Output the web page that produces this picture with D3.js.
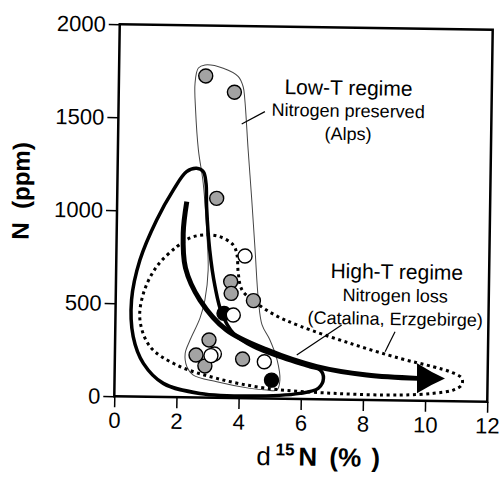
<!DOCTYPE html>
<html>
<head>
<meta charset="utf-8">
<script src="https://cdn.jsdelivr.net/npm/d3@7"></script>
<style>
  body { margin: 0; background: #fff; }
  svg { display: block; font-family: "Liberation Sans", Arial, sans-serif; }
</style>
</head>
<body>
<div id="chart"></div>
<script>
// axis ticks
var xTicks = [0, 2, 4, 6, 8, 10, 12];
var yTicks = [0, 500, 1000, 1500, 2000];

// samples [d15N, N ppm]
var grayPts = [[2.79,1729],[3.72,1644],[3.20,1072],[3.69,625],[3.71,562],[4.43,525],
               [3.02,310],[2.61,228],[2.90,170],[4.11,210]];
var blackPts = [[3.49,454],[5.05,99]];
var openPts = [[4.14,764],[3.79,446],[3.20,235],[3.09,226],[4.81,197]];

// field outlines
var lowTField = [[2.45,1689],[2.55,1771],[2.76,1788],[3.35,1772],[3.84,1728],[4.00,1674],[4.06,1603],
                 [4.19,1334],[4.33,1066],[4.46,797],[4.59,529],[4.72,395],[4.98,315],[5.22,208],
                 [5.32,100],[5.23,46],[4.90,45],[4.36,53],[3.29,86],[2.53,120],[2.32,165],[2.26,236],
                 [2.41,308],[2.72,427],[2.87,525],[2.96,686],[2.90,883],[2.76,1152],[2.59,1330],[2.48,1545]];
var highTSolid = [[2.54,1232],[2.22,1213],[1.80,1113],[1.28,951],[0.76,734],[0.51,519],[0.58,322],
                  [0.92,179],[1.57,73],[2.75,22],[4.37,12],[5.97,30],[6.56,59],[6.72,113],[6.61,157],
                  [6.28,174],[5.42,217],[4.45,277],[3.80,348],[3.42,454],[3.19,597],[3.00,794],
                  [2.88,1026],[2.85,1152],[2.76,1214]];
var highTDotted = [[2.79,874],[3.32,866],[3.76,822],[3.88,769],[3.93,671],[4.06,581],[4.48,518],
                   [5.13,449],[5.94,392],[7.56,303],[9.17,226],[10.24,184],[10.79,158],[11.17,124],
                   [11.17,88],[10.90,60],[10.27,41],[9.19,29],[7.05,33],[4.90,55],[3.29,104],
                   [1.99,173],[1.13,269],[0.79,412],[0.89,556],[1.30,700],[1.94,809],[2.36,857]];
var trend = [[2.24,1052],[2.14,881],[2.23,695],[2.71,524],[3.58,365],[4.88,261],[6.50,175],[8.11,134],[9.76,120]];
var trendTip = [10.63, 122];

// labels and leader lines
var notes = [
  {text: "Low-T regime", x: 7.39, y: 1638, size: 21},
  {text: "Nitrogen preserved", x: 7.39, y: 1520, size: 18},
  {text: "(Alps)", x: 7.40, y: 1396, size: 18},
  {text: "High-T regime", x: 9.03, y: 653, size: 21},
  {text: "Nitrogen loss", x: 8.99, y: 530, size: 18},
  {text: "(Catalina, Erzgebirge)", x: 9.00, y: 405, size: 18}
];
var leaders = [
  [[3.97,1474],[4.71,1542]],
  [[7.28,401],[5.85,236]],
  [[9.00,369],[8.69,261]]
];

var w = 504, h = 479;
var svg = d3.select("#chart").append("svg")
  .attr("width", w).attr("height", h);

// scanned figure is tilted a little
var g = svg.append("g").attr("transform", "rotate(0.84,303.5,213)");

var x = d3.scaleLinear().domain([0, 12]).range([117, 490]);
var y = d3.scaleLinear().domain([0, 2000]).range([399, 27]);

var xAxis = g.append("g")
  .attr("transform", "translate(0," + y(0) + ")")
  .call(d3.axisBottom(x).tickValues(xTicks).tickFormat(d3.format("d"))
    .tickSize(11).tickPadding(5).tickSizeOuter(0));
var yAxis = g.append("g")
  .attr("transform", "translate(" + x(0) + ",0)")
  .call(d3.axisLeft(y).tickValues(yTicks).tickFormat(d3.format("d"))
    .tickSize(11).tickPadding(3).tickSizeOuter(0));

[xAxis, yAxis].forEach(function(a) {
  a.select(".domain").remove();
  a.selectAll("line").attr("stroke", "#000").attr("stroke-width", 1.5);
  a.selectAll("text").attr("fill", "#000").style("font-size", "22px")
    .style("font-family", "'Liberation Sans', Arial, sans-serif");
});

g.append("rect")
  .attr("x", x(0)).attr("y", y(2000))
  .attr("width", x(12) - x(0)).attr("height", y(0) - y(2000))
  .attr("fill", "none").attr("stroke", "#000").attr("stroke-width", 2.5);

var loopLine = d3.line().x(function(d){ return x(d[0]); }).y(function(d){ return y(d[1]); })
  .curve(d3.curveCatmullRomClosed.alpha(0.5));
var openLine = d3.line().x(function(d){ return x(d[0]); }).y(function(d){ return y(d[1]); })
  .curve(d3.curveCatmullRom.alpha(0.5));

g.append("path").attr("d", loopLine(lowTField))
  .attr("fill", "none").attr("stroke", "#444").attr("stroke-width", 1);
g.append("path").attr("d", loopLine(highTSolid))
  .attr("fill", "none").attr("stroke", "#000").attr("stroke-width", 3.5);
g.append("path").attr("d", loopLine(highTDotted))
  .attr("fill", "none").attr("stroke", "#000").attr("stroke-width", 3)
  .attr("stroke-dasharray", "3,3.6");

// trend arrow
g.append("path").attr("d", openLine(trend))
  .attr("fill", "none").attr("stroke", "#000").attr("stroke-width", 5);
var last = trend[trend.length - 1];
var ang = Math.atan2(y(trendTip[1]) - y(last[1]), x(trendTip[0]) - x(last[0])) * 180 / Math.PI;
g.append("path")
  .attr("d", "M0,0 Q-14,-6 -28,-15 L-28,15 Q-14,6 0,0Z")
  .attr("transform", "translate(" + x(trendTip[0]) + "," + y(trendTip[1]) + ") rotate(" + ang + ")")
  .attr("fill", "#000");

g.selectAll(".leader").data(leaders).enter().append("line")
  .attr("class", "leader")
  .attr("x1", function(d){ return x(d[0][0]); }).attr("y1", function(d){ return y(d[0][1]); })
  .attr("x2", function(d){ return x(d[1][0]); }).attr("y2", function(d){ return y(d[1][1]); })
  .attr("stroke", "#000").attr("stroke-width", 1.2);

function dots(data, fill) {
  g.append("g").selectAll("circle").data(data).enter().append("circle")
    .attr("cx", function(d){ return x(d[0]); })
    .attr("cy", function(d){ return y(d[1]); })
    .attr("r", 7)
    .attr("fill", fill).attr("stroke", "#000").attr("stroke-width", 1.4);
}
dots(grayPts, "#a3a3a3");
dots(blackPts, "#000");
dots(openPts, "#fff");

g.selectAll(".note").data(notes).enter().append("text")
  .attr("class", "note")
  .attr("x", function(d){ return x(d.x); })
  .attr("y", function(d){ return y(d.y); })
  .attr("text-anchor", "middle")
  .style("font-size", function(d){ return d.size + "px"; })
  .text(function(d){ return d.text; });

// axis titles
var xt = g.append("text").attr("y", 465.6).style("font-size", "26px").attr("font-weight", "bold");
xt.append("tspan").attr("x", 260).attr("font-weight", "normal").text("d");
xt.append("tspan").attr("x", 279).attr("dy", -10).style("font-size", "17px").text("15");
xt.append("tspan").attr("x", 302).attr("dy", 10).text("N");
xt.append("tspan").attr("x", 333).text("(%");
xt.append("tspan").attr("x", 375).text(")");

g.append("text")
  .attr("transform", "translate(29,195) rotate(-90)")
  .attr("text-anchor", "middle")
  .attr("font-weight", "bold")
  .style("font-size", "24px")
  .attr("xml:space", "preserve")
  .text("N  (ppm)");
</script>
</body>
</html>
